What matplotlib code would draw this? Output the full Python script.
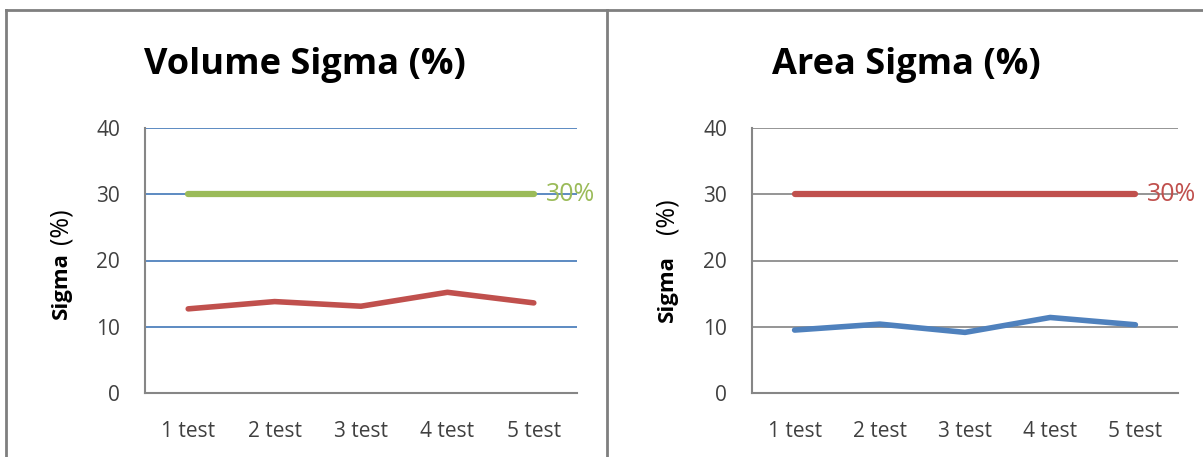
import matplotlib
matplotlib.use("Agg")
import matplotlib.pyplot as plt
from matplotlib.lines import Line2D

plt.rcParams['font.family'] = ['Open Sans', 'DejaVu Sans']

categories = ['1 test', '2 test', '3 test', '4 test', '5 test']
volume_sigma = [12.7, 13.8, 13.1, 15.2, 13.6]
area_sigma = [9.5, 10.4, 9.15, 11.4, 10.3]
limit = [30, 30, 30, 30, 30]
limit_label = '30%'

GREEN = '#9BBB59'
RED = '#C0504D'
BLUE = '#4F81BD'
AXIS_GRAY = '#868686'
TEXT = '#404040'

fig = plt.figure(figsize=(12.03, 4.57), dpi=100)
W, H = 1203, 457

# panel frames
frame = dict(color='#7f7f7f', linewidth=2.0, transform=fig.transFigure)
fig.add_artist(Line2D([6 / W, 1.0], [1 - 10 / H, 1 - 10 / H], **frame))
fig.add_artist(Line2D([6 / W, 6 / W], [0, 1 - 10 / H], **frame))
fig.add_artist(Line2D([607 / W, 607 / W], [0, 1 - 10 / H], **frame))


def panel(rect, title, title_x, series, series_color, limit_color, grid_color,
          ylab_x, sigma_y, pct_y):
    ax = fig.add_axes(rect)
    x = range(len(categories))
    ax.set_xlim(-0.5, len(categories) - 0.5)
    ax.set_ylim(0, 40)
    ax.set_yticks([0, 10, 20, 30, 40])
    ax.set_xticks(list(x))
    ax.set_xticklabels(categories)
    for y in [10, 20, 30, 40]:
        ax.axhline(y, color=grid_color, linewidth=1.3, zorder=1)
    ax.plot(x, limit, color=limit_color, linewidth=4.5, solid_capstyle='round', zorder=3)
    ax.plot(x, series, color=series_color, linewidth=4.0, solid_capstyle='round',
            solid_joinstyle='round', zorder=3)
    ax.text(len(categories) - 1 + 0.14, limit[-1], limit_label, color=limit_color,
            fontsize=18, va='center', ha='left', zorder=4)
    for s in ['top', 'right']:
        ax.spines[s].set_visible(False)
    for s in ['left', 'bottom']:
        ax.spines[s].set_color(AXIS_GRAY)
        ax.spines[s].set_linewidth(1.5)
    ax.tick_params(length=0, labelsize=15, labelcolor=TEXT)
    ax.tick_params(axis='y', pad=18)
    ax.tick_params(axis='x', pad=20)
    fig.text(title_x / W, 1 - 65 / H, title, fontsize=26, fontweight='bold',
             ha='center', va='center', color='black')
    fig.text(ylab_x / W, 1 - sigma_y / H, 'Sigma', rotation=90, fontsize=16,
             fontweight='bold', ha='center', va='center', color='black')
    fig.text(ylab_x / W, 1 - pct_y / H, '(%)', rotation=90, fontsize=18,
             ha='center', va='center', color='black')
    return ax


panel([145 / W, 64 / H, 432 / W, 265 / H], 'Volume Sigma (%)', 305, volume_sigma,
      RED, GREEN, BLUE, 61, 286, 226)
panel([752 / W, 64 / H, 426 / W, 265 / H], 'Area Sigma (%)', 906, area_sigma,
      BLUE, RED, '#8c8c8c', 667, 289, 216)

fig.savefig('out.png', dpi=100)
